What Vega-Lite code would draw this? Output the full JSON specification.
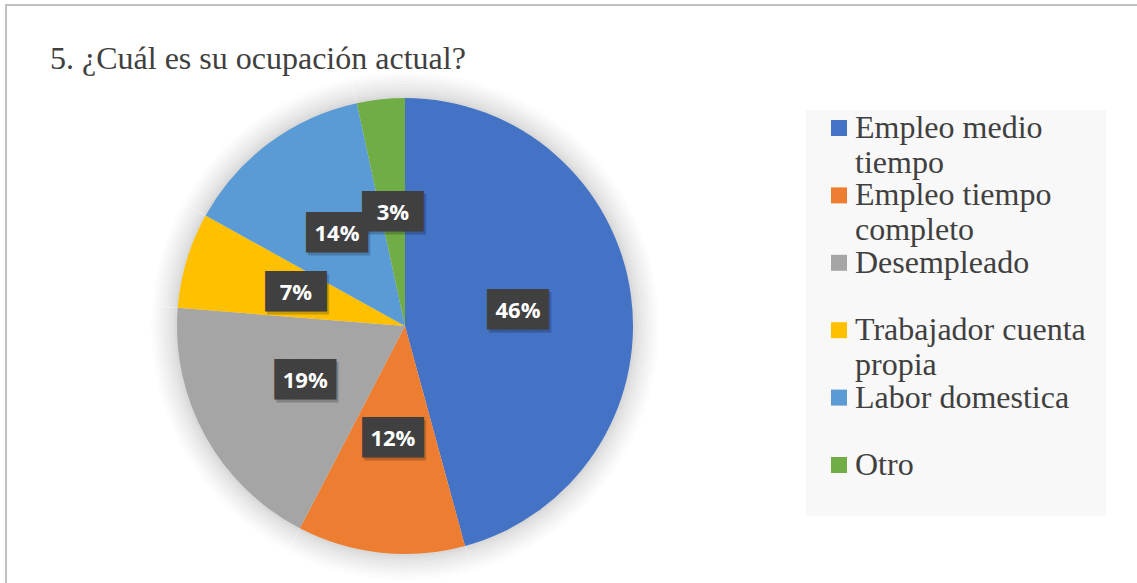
{
  "$schema": "https://vega.github.io/schema/vega-lite/v6.json",
  "autosize": {"type": "none"},
  "width": 798,
  "height": 642,
  "padding": {"left": 6, "top": 5, "right": 333, "bottom": -64},
  "background": "white",
  "view": {"stroke": "#c0c0c0", "strokeWidth": 2, "strokeDash": [798, 1440, 642]},
  "title": {
    "text": "5. ¿Cuál es su ocupación actual?",
    "anchor": "start",
    "frame": "group",
    "font": "Liberation Serif",
    "fontSize": 32,
    "fontWeight": "normal",
    "color": "#404040",
    "baseline": "alphabetic",
    "offset": 0,
    "dx": 44,
    "dy": 97
  },
  "data": {
    "values": [
      {"ocupacion": "Empleo medio tiempo", "etiqueta": "Empleo medio\ntiempo", "n": 27, "pct": "46%", "orden": 1},
      {"ocupacion": "Empleo tiempo completo", "etiqueta": "Empleo tiempo\ncompleto", "n": 7, "pct": "12%", "orden": 2},
      {"ocupacion": "Desempleado", "etiqueta": "Desempleado", "n": 11, "pct": "19%", "orden": 3},
      {"ocupacion": "Trabajador cuenta propia", "etiqueta": "Trabajador cuenta\npropia", "n": 4, "pct": "7%", "orden": 4},
      {"ocupacion": "Labor domestica", "etiqueta": "Labor domestica", "n": 8, "pct": "14%", "orden": 5},
      {"ocupacion": "Otro", "etiqueta": "Otro", "n": 2, "pct": "3%", "orden": 6}
    ]
  },
  "layer": [
    {
      "mark": {"type": "rule", "color": "#c0c0c0", "strokeWidth": 2},
      "encoding": {
        "x": {"datum": -2.1875, "type": "quantitative", "scale": {"domain": [0, 1], "range": [833, 849]}, "axis": null},
        "x2": {"datum": 18.625},
        "y": {"datum": -0.825, "type": "quantitative", "scale": {"domain": [1, 6], "range": [123, 460]}, "axis": null}
      }
    },
    {
      "mark": {"type": "rect", "color": "#f8f8f8"},
      "encoding": {
        "x": {"datum": -2.0625, "type": "quantitative"},
        "x2": {"datum": 16.6875},
        "y": {"datum": 0.733, "type": "quantitative"},
        "y2": {"datum": 6.757}
      }
    },
    {"mark": {"type": "arc", "outerRadius": 254, "fill": "#000000", "opacity": 0.013}, "encoding": {"theta": {"field": "n", "type": "quantitative", "stack": true}, "order": {"field": "orden", "type": "quantitative"}}},
    {"mark": {"type": "arc", "outerRadius": 251, "fill": "#000000", "opacity": 0.013}, "encoding": {"theta": {"field": "n", "type": "quantitative", "stack": true}, "order": {"field": "orden", "type": "quantitative"}}},
    {"mark": {"type": "arc", "outerRadius": 248, "fill": "#000000", "opacity": 0.015}, "encoding": {"theta": {"field": "n", "type": "quantitative", "stack": true}, "order": {"field": "orden", "type": "quantitative"}}},
    {"mark": {"type": "arc", "outerRadius": 245, "fill": "#000000", "opacity": 0.015}, "encoding": {"theta": {"field": "n", "type": "quantitative", "stack": true}, "order": {"field": "orden", "type": "quantitative"}}},
    {"mark": {"type": "arc", "outerRadius": 242, "fill": "#000000", "opacity": 0.017}, "encoding": {"theta": {"field": "n", "type": "quantitative", "stack": true}, "order": {"field": "orden", "type": "quantitative"}}},
    {"mark": {"type": "arc", "outerRadius": 239, "fill": "#000000", "opacity": 0.017}, "encoding": {"theta": {"field": "n", "type": "quantitative", "stack": true}, "order": {"field": "orden", "type": "quantitative"}}},
    {"mark": {"type": "arc", "outerRadius": 236, "fill": "#000000", "opacity": 0.019}, "encoding": {"theta": {"field": "n", "type": "quantitative", "stack": true}, "order": {"field": "orden", "type": "quantitative"}}},
    {"mark": {"type": "arc", "outerRadius": 233, "fill": "#000000", "opacity": 0.021}, "encoding": {"theta": {"field": "n", "type": "quantitative", "stack": true}, "order": {"field": "orden", "type": "quantitative"}}},
    {"mark": {"type": "arc", "outerRadius": 230.5, "fill": "#000000", "opacity": 0.023}, "encoding": {"theta": {"field": "n", "type": "quantitative", "stack": true}, "order": {"field": "orden", "type": "quantitative"}}},
    {
      "mark": {"type": "arc", "outerRadius": 228},
      "encoding": {
        "theta": {"field": "n", "type": "quantitative", "stack": true},
        "order": {"field": "orden", "type": "quantitative"},
        "color": {
          "field": "ocupacion",
          "type": "nominal",
          "scale": {
            "domain": ["Empleo medio tiempo", "Empleo tiempo completo", "Desempleado", "Trabajador cuenta propia", "Labor domestica", "Otro"],
            "range": ["#4472C4", "#ED7D31", "#A5A5A5", "#FFC000", "#5B9BD5", "#70AD47"]
          },
          "legend": null
        }
      }
    },
    {
      "mark": {"type": "text", "radius": 114, "text": "███", "font": "DejaVu Sans Mono", "fontSize": 34, "color": "#000000", "opacity": 0.2, "dx": 2, "dy": 3},
      "encoding": {"theta": {"field": "n", "type": "quantitative", "stack": true}, "order": {"field": "orden", "type": "quantitative"}}
    },
    {
      "mark": {"type": "text", "radius": 114, "text": "███", "font": "DejaVu Sans Mono", "fontSize": 34, "color": "#404040"},
      "encoding": {"theta": {"field": "n", "type": "quantitative", "stack": true}, "order": {"field": "orden", "type": "quantitative"}}
    },
    {
      "mark": {"type": "text", "radius": 114, "font": "Open Sans", "fontWeight": "bold", "fontSize": 22, "color": "#ffffff"},
      "encoding": {
        "theta": {"field": "n", "type": "quantitative", "stack": true},
        "order": {"field": "orden", "type": "quantitative"},
        "text": {"field": "pct", "type": "nominal"}
      }
    },
    {
      "mark": {"type": "point", "shape": "square", "size": 256, "filled": true, "opacity": 1, "strokeWidth": 0},
      "encoding": {
        "x": {"datum": 0, "type": "quantitative"},
        "y": {"field": "orden", "type": "quantitative"},
        "color": {"field": "ocupacion", "type": "nominal", "legend": null}
      }
    },
    {
      "mark": {"type": "text", "align": "left", "baseline": "alphabetic", "dy": 10, "lineBreak": "\n", "lineHeight": 35, "font": "Liberation Serif", "fontSize": 32, "color": "#404040"},
      "encoding": {
        "x": {"datum": 1, "type": "quantitative"},
        "y": {"field": "orden", "type": "quantitative"},
        "text": {"field": "etiqueta", "type": "nominal"}
      }
    }
  ]
}
